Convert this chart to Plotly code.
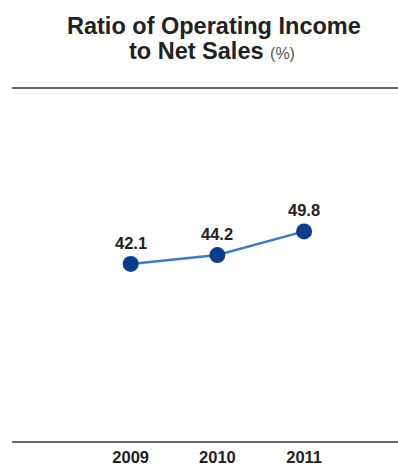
import plotly.graph_objects as go

# Ratio of operating income to net sales, by fiscal year
years = ["2009", "2010", "2011"]
ratio = [42.1, 44.2, 49.8]
tick_text = ["<b>2009</b>", "<b>2010</b>", "<b>2011</b>"]

W, H = 398, 468
x_pos = list(range(len(years)))

fig = go.Figure()
fig.add_trace(go.Scatter(
    x=x_pos,
    y=ratio,
    mode="lines+markers",
    line=dict(color="#3b7bc8", width=2.5),
    marker=dict(color="#0b3d8c", size=16),
    cliponaxis=False,
    hoverinfo="skip",
))

# value labels just above each marker
value_labels = [
    dict(x=xi, y=v, xref="x", yref="y", text=f"<b>{v:.1f}</b>", showarrow=False,
         yanchor="bottom", yshift=10, font=dict(size=16.5, color="#222222"))
    for xi, v in zip(x_pos, ratio)
]

fig.update_layout(
    width=W,
    height=H,
    margin=dict(l=12, r=0, t=88, b=26, autoexpand=False),
    paper_bgcolor="white",
    plot_bgcolor="white",
    showlegend=False,
    font=dict(family="Liberation Sans, Arial, sans-serif", color="#222222"),
    xaxis=dict(
        range=[-1.369, 3.083],
        tickvals=x_pos,
        ticktext=tick_text,
        tickfont=dict(size=16.5, color="#222222"),
        showgrid=False,
        zeroline=False,
        showline=False,
        ticks="",
        ticklabelstandoff=3,
        automargin=False,
    ),
    yaxis=dict(
        range=[0, 83.7],
        visible=False,
        showgrid=False,
        zeroline=False,
        automargin=False,
    ),
    shapes=[
        dict(type="line", xref="paper", yref="paper", x0=0, x1=1, y0=1, y1=1,
             line=dict(color="#333333", width=1.5)),
        dict(type="line", xref="paper", yref="paper", x0=0, x1=1, y0=0, y1=0,
             line=dict(color="#333333", width=1.5)),
    ],
    annotations=[
        dict(text="<b>Ratio of Operating Income</b>", xref="paper", yref="paper",
             x=0.523, y=1.0, yshift=62, yanchor="middle", xanchor="center",
             showarrow=False, font=dict(size=23.5, color="#222222")),
        dict(text="<b>to Net Sales</b> <span style='font-size:16px;color:#555555'>(%)</span>",
             xref="paper", yref="paper", x=0.518, y=1.0, yshift=37,
             yanchor="middle", xanchor="center", showarrow=False,
             font=dict(size=23.5, color="#222222")),
    ] + value_labels,
)

fig.write_html("out.html")
